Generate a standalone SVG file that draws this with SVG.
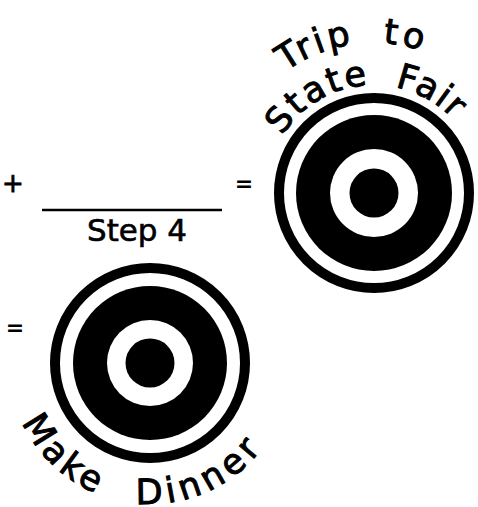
<svg xmlns="http://www.w3.org/2000/svg" width="478" height="507" viewBox="0 0 478 507">
<style>
.hand{font-family:"DejaVu Sans","Noto Sans",sans-serif;font-size:35px;fill:#000;stroke:#000;stroke-width:1}
.cond{font-family:"DejaVu Sans","Liberation Sans",sans-serif;fill:#000}
.ring{fill:none;stroke:#000;stroke-width:10}
</style>
<defs>
<path id="arcTrip" d="M 267.9 86.9 A 150 150 0 0 1 449 63.1"/>
<path id="arcState" d="M 272.5 156.1 A 108 108 0 0 1 467.5 139"/>
<path id="arcMake" d="M 17.5 411.2 A 141 141 0 0 0 282.5 411.2"/>
</defs>
<rect width="478" height="507" fill="#fff"/>
<g id="equation">
<text class="cond" x="13" y="192" font-size="26" stroke="#000" stroke-width="0.8" text-anchor="middle">+</text>
<line x1="42" y1="210" x2="222" y2="210" stroke="#000" stroke-width="2.5"/>
<text class="cond" x="87" y="241" font-size="30" stroke="#000" stroke-width="0.6" textLength="100" lengthAdjust="spacingAndGlyphs">Step 4</text>
<text class="cond" x="244" y="191" font-size="22" font-weight="bold" text-anchor="middle">=</text>
<text class="cond" x="15" y="335" font-size="22" font-weight="bold" text-anchor="middle">=</text>
</g>
<g id="target-state-fair">
<circle class="ring" cx="374" cy="193" r="95"/>
<circle cx="374" cy="193" r="78" fill="#000"/>
<circle cx="374" cy="193" r="44" fill="#fff"/>
<circle cx="374" cy="193" r="24.5" fill="#000"/>
<text class="hand" letter-spacing="3"><textPath href="#arcTrip" startOffset="23.6">Trip</textPath></text>
<text class="hand" letter-spacing="4"><textPath href="#arcTrip" startOffset="126.7">to</textPath></text>
<text class="hand" letter-spacing="2.5"><textPath href="#arcState" startOffset="22.6">State</textPath></text>
<text class="hand" letter-spacing="1.5"><textPath href="#arcState" startOffset="153">Fair</textPath></text>
</g>
<g id="target-make-dinner">
<circle class="ring" cx="150" cy="363" r="95"/>
<circle cx="150" cy="363" r="77" fill="#000"/>
<circle cx="150" cy="363" r="43" fill="#fff"/>
<circle cx="150" cy="363" r="24.5" fill="#000"/>
<text class="hand" letter-spacing="4"><textPath href="#arcMake" startOffset="12">Make</textPath></text>
<text class="hand" letter-spacing="5"><textPath href="#arcMake" startOffset="158">Dinner</textPath></text>
</g>
</svg>
